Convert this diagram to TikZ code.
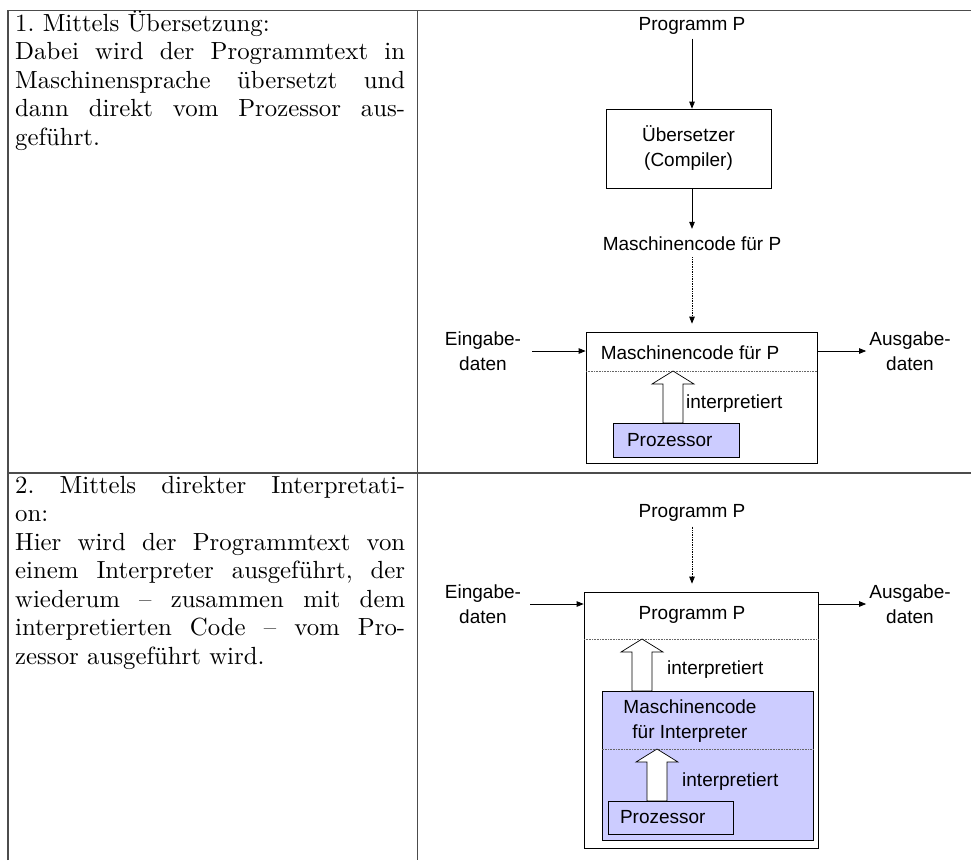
\documentclass[tikz,border=0pt]{standalone}
\usepackage{fontspec}
\newfontfamily\folie{Liberation Sans}
\newfontfamily\lmzehn{lmroman10-regular.otf}
\usetikzlibrary{arrows.meta,positioning}
\definecolor{lila}{RGB}{204,204,255}
\frenchspacing

\newcommand\voll[1]{\hbox to 390pt{#1}}
\newcommand\hohlpfeil[3]{%
  \draw[hohl] (#1,#2) -- ++(21,13) -- ++(-11,0) -- ++(0,#3) -- ++(-20,0)
    -- ++(0,-#3) -- ++(-11,0) -- cycle;}

\tikzset{
  gitter/.style={draw=black!70, line width=1.4pt},
  zeile/.style={anchor=base west, inner sep=0pt, font=\lmzehn\fontsize{24.8}{28.5}\selectfont},
  txt/.style={font=\folie\fontsize{19}{25}\selectfont, align=center, inner sep=0pt},
  kasten/.style={draw, line width=0.7pt},
  proz/.style={txt, kasten, fill=lila, align=left, minimum height=34pt},
  pfeil/.style={-{Triangle[length=7pt,width=5.5pt]}, line width=0.7pt},
  pfeilp/.style={pfeil, densely dotted},
  trenn/.style={densely dotted, line width=0.6pt, draw=black!60},
  hohl/.style={draw, fill=white, line width=0.7pt},
}

\begin{document}
\begin{tikzpicture}[x=1pt,y=-1pt]
\useasboundingbox (0,0) rectangle (971,860);

% Tabelle
\draw[gitter] (8,860) -- (8,10.5) -- (971,10.5);
\draw[gitter] (417.5,10.5) -- (417.5,860);
\draw[gitter] (8,473) -- (971,473);

% linke Spalte
\foreach \z [count=\i from 0] in {1. Mittels Übersetzung:,
  {\voll{Dabei wird der Programmtext in}},
  {\voll{Maschinensprache übersetzt und}},
  {\voll{dann direkt vom Prozessor aus-}},
  geführt.} {
  \node[zeile] (a\i) at (15,31+28.5*\i) {\z};
}

\foreach \z [count=\i from 0] in {{\voll{2. Mittels direkter Interpretati-}},
  on:,
  {\voll{Hier wird der Programmtext von}},
  {\voll{einem Interpreter ausgeführt, der}},
  {\voll{wiederum – zusammen mit dem}},
  {\voll{interpretierten Code – vom Pro-}},
  zessor ausgeführt wird.} {
  \node[zeile] (b\i) at (15,493+28.5*\i) {\z};
}

% 1. Uebersetzung
\node[txt] (prog1) at (692,26) {Programm P};
\node[txt, kasten, minimum width=165pt, minimum height=79pt] (comp) at (688.5,148.5) {Übersetzer\\(Compiler)};
\node[txt] (mc1) at (692,244) {Maschinencode für P};
\node[kasten, minimum width=231pt, minimum height=131pt] (box1) at (701.5,397.5) {};
\node[txt] (mc2) at (690,353) {Maschinencode für P};
\node[txt] (ein1) at (483,351) {Eingabe-\\daten};
\node[txt] (aus1) at (910,351) {Ausgabe-\\daten};

\draw[pfeil] ([yshift=-4pt]prog1.south) -- (prog1.south |- comp.north);
\draw[pfeil] (comp.south -| mc1) -- ([yshift=8pt]mc1.north);
\draw[pfeilp] ([yshift=-6pt]mc1.south) -- ([yshift=8pt]mc1.south |- box1.north);
\draw[pfeil] ([xshift=11pt]ein1.east) -- (box1.west |- ein1.east);
\draw[pfeil] (box1.east |- aus1.west) -- ([xshift=-3pt]aus1.west);

\draw[trenn] (586,371) -- (817,371);
\hohlpfeil{673}{371}{39}
\node[txt, anchor=west] (int1) at (686,404) {interpretiert};
\node[proz, text width=98pt, inner xsep=14pt] (proz1) at (676,440) {Prozessor};

% 2. Interpretation
\node[txt] (prog2) at (692,513) {Programm P};
\node[kasten, minimum width=234pt, minimum height=256pt] (box2) at (701,720) {};
\node[txt] (prog3) at (692,615) {Programm P};
\node[txt] (ein2) at (483,604) {Eingabe-\\daten};
\node[txt] (aus2) at (910,604) {Ausgabe-\\daten};

\draw[pfeilp] ([yshift=-5pt]prog2.south) -- ([yshift=8pt]prog2.south |- box2.north);
\draw[pfeil] ([xshift=9pt]ein2.east) -- (box2.west |- ein2.east);
\draw[pfeil] (box2.east |- aus2.west) -- ([xshift=-3pt]aus2.west);

\draw[trenn] (584,639) -- (818,639);
\hohlpfeil{642}{639}{39}
\node[txt, anchor=west] (int2) at (667,670) {interpretiert};

\node[kasten, fill=lila, minimum width=211pt, minimum height=149pt] (mcode) at (707.5,765.5) {};
\node[txt, align=center] (mcint) at (690,721) {Maschinencode\\für Interpreter};
\draw[trenn] (mcode.west |- 0,749) -- (mcode.east |- 0,749);
\hohlpfeil{657}{749}{39}
\node[txt, anchor=west] (int3) at (682,782) {interpretiert};
\node[proz, text width=101pt, inner xsep=12pt, minimum height=33pt] (proz2) at (670.5,817.5) {Prozessor};
\end{tikzpicture}
\end{document}
